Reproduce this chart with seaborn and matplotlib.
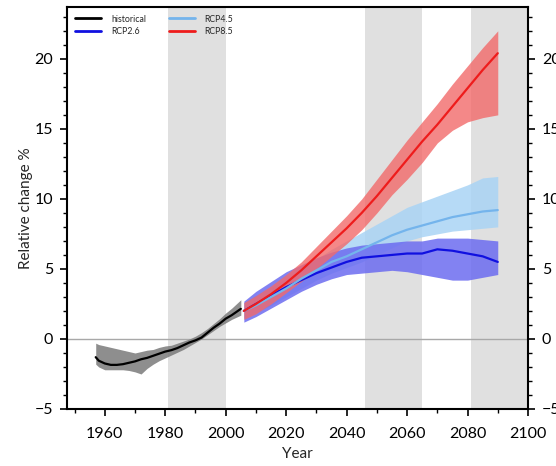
import numpy as np
import pandas as pd
import matplotlib
matplotlib.use("Agg")
import matplotlib.pyplot as plt
import seaborn as sns
from matplotlib.ticker import MultipleLocator

# ---------------- data ----------------
hist_years = [1957, 1958, 1960, 1962, 1964, 1966, 1968, 1970, 1972, 1974, 1976, 1978,
              1980, 1982, 1984, 1986, 1988, 1990, 1992, 1994, 1996, 1998, 2000, 2002,
              2004, 2005]
hist_mean = [-1.3, -1.55, -1.75, -1.85, -1.85, -1.8, -1.7, -1.6, -1.45, -1.35, -1.2, -1.05,
             -0.9, -0.8, -0.65, -0.45, -0.25, -0.1, 0.1, 0.45, 0.8, 1.1, 1.45, 1.7,
             2.0, 2.15]
hist_upper = [-0.3, -0.4, -0.5, -0.6, -0.7, -0.8, -0.9, -1.0, -0.9, -0.8, -0.75, -0.6,
              -0.5, -0.45, -0.3, -0.15, 0.0, 0.2, 0.45, 0.75, 1.1, 1.45, 1.85, 2.2,
              2.6, 2.8]
hist_lower = [-1.8, -2.0, -2.2, -2.2, -2.2, -2.2, -2.25, -2.35, -2.5, -2.1, -1.8, -1.55,
              -1.35, -1.15, -0.95, -0.75, -0.5, -0.25, 0.0, 0.3, 0.6, 0.9, 1.15, 1.4,
              1.6, 1.7]

proj_years = [2006, 2010, 2015, 2020, 2025, 2030, 2035, 2040, 2045, 2050, 2055, 2060,
              2065, 2070, 2075, 2080, 2085, 2090]

rcp26_mean = [2.0, 2.5, 3.1, 3.7, 4.2, 4.7, 5.1, 5.5, 5.8, 5.9, 6.0, 6.1,
              6.1, 6.4, 6.3, 6.1, 5.9, 5.5]
rcp26_upper = [2.7, 3.4, 4.1, 4.8, 5.3, 5.8, 6.2, 6.5, 6.7, 6.8, 6.9, 7.0,
               7.0, 7.2, 7.2, 7.2, 7.1, 7.0]
rcp26_lower = [1.2, 1.6, 2.2, 2.8, 3.4, 3.9, 4.3, 4.6, 4.7, 4.8, 4.9, 4.8,
               4.6, 4.4, 4.2, 4.2, 4.4, 4.6]

rcp45_mean = [2.0, 2.4, 3.0, 3.6, 4.3, 4.9, 5.5, 5.9, 6.4, 6.9, 7.4, 7.8,
              8.1, 8.4, 8.7, 8.9, 9.1, 9.2]
rcp45_upper = [2.6, 3.1, 3.7, 4.3, 5.0, 5.7, 6.4, 7.0, 7.6, 8.2, 8.8, 9.4,
               9.8, 10.2, 10.6, 11.0, 11.5, 11.6]
rcp45_lower = [1.5, 1.9, 2.4, 3.0, 3.6, 4.2, 4.7, 5.1, 5.5, 6.0, 6.5, 7.0,
               7.3, 7.5, 7.7, 7.8, 7.9, 8.0]

rcp85_mean = [2.0, 2.5, 3.2, 4.0, 4.9, 5.9, 6.9, 7.9, 9.0, 10.2, 11.5, 12.8,
              14.1, 15.3, 16.6, 17.9, 19.2, 20.4]
rcp85_upper = [2.6, 3.1, 3.8, 4.6, 5.5, 6.6, 7.7, 8.8, 10.0, 11.4, 12.8, 14.2,
               15.5, 16.8, 18.2, 19.5, 20.8, 22.0]
rcp85_lower = [1.4, 1.8, 2.5, 3.3, 4.1, 5.0, 5.9, 6.8, 7.8, 9.0, 10.3, 11.4,
               12.6, 14.0, 14.9, 15.5, 15.8, 16.0]

bands_years = [(1981, 2000), (2046, 2065), (2081, 2100)]

series_names = ["historical", "RCP2.6", "RCP4.5", "RCP8.5"]
line_colors = ["#000000", "#1010e0", "#74b4ec", "#ee1c1c"]
fill_colors = ["#7a7a7a", "#6c6cf0", "#a9d4f5", "#f26a6a"]

# ---------------- build table ----------------
rows = []
for y, m in zip(hist_years, hist_mean):
    rows.append(("historical", y, m))
for name, mean in [("RCP2.6", rcp26_mean), ("RCP4.5", rcp45_mean), ("RCP8.5", rcp85_mean)]:
    for y, m in zip(proj_years, mean):
        rows.append((name, y, m))
df = pd.DataFrame(rows, columns=["scenario", "year", "change"])

# ---------------- plot ----------------
sns.set_theme(style="white")
plt.rcParams["font.family"] = ["Lato", "DejaVu Sans"]

fig = plt.figure(figsize=(5.56, 4.66), dpi=100)
ax = fig.add_axes([67 / 556, 1 - 409 / 466, (528 - 67) / 556, (409 - 7) / 466])

for a, b in bands_years:
    ax.axvspan(a, b, color="#e0e0e0", lw=0, zorder=0)
ax.axhline(0, color="#a8a8a8", lw=1.0, zorder=1)

band_data = [
    (hist_years, hist_lower, hist_upper),
    (proj_years, rcp26_lower, rcp26_upper),
    (proj_years, rcp45_lower, rcp45_upper),
    (proj_years, rcp85_lower, rcp85_upper),
]
for idx in [0, 2, 1, 3]:
    xs, lo, hi = band_data[idx]
    ax.fill_between(xs, lo, hi, color=fill_colors[idx], alpha=0.85 if idx != 3 else 0.8,
                    lw=0, zorder=2)

palette = dict(zip(series_names, line_colors))
sns.lineplot(data=df, x="year", y="change", hue="scenario", hue_order=series_names,
             palette=palette, lw=1.6, ax=ax, zorder=3)

ax.set_xlim(1947.5, 2100)
ax.set_ylim(-5, 23.7)
ax.xaxis.set_major_locator(MultipleLocator(20))
ax.xaxis.set_minor_locator(MultipleLocator(10))
ax.yaxis.set_minor_locator(MultipleLocator(1))
ax.set_yticks([-5, 0, 5, 10, 15, 20])
ax.set_yticklabels(["\u22125", "0", "5", "10", "15", "20"])

ax.tick_params(axis="both", which="both", direction="out", colors="black",
               labelsize=11.5, top=False)
ax.tick_params(axis="y", which="both", left=True, right=True, labelright=True)
ax.tick_params(axis="x", which="both", bottom=True)
ax.tick_params(which="major", length=5, width=1.2)
ax.tick_params(which="minor", length=3, width=1.0)
ax.tick_params(axis="x", which="major", pad=8)
ax.tick_params(axis="y", which="major", pad=5)

for s in ax.spines.values():
    s.set_color("black")
    s.set_linewidth(1.5)

ax.set_xlabel("Year", fontsize=11, labelpad=4)
ax.set_ylabel("Relative change %", fontsize=11, labelpad=1)

leg = ax.legend(loc="upper left", bbox_to_anchor=(0.01, 0.99), ncol=2, frameon=False,
                fontsize=6.3, handlelength=3.0, columnspacing=2.6, handletextpad=1.1,
                labelspacing=0.4, borderaxespad=0.0, title=None)
for line in leg.get_lines():
    line.set_linewidth(2.0)

fig.savefig("out.png", dpi=100)
